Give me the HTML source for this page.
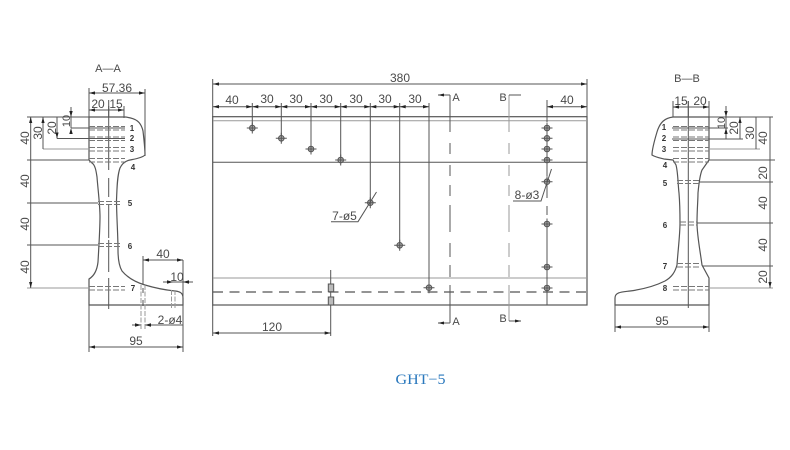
<!DOCTYPE html>
<html><head><meta charset="utf-8"><style>
html,body{margin:0;padding:0;background:#fff;width:790px;height:450px;overflow:hidden}
svg{display:block}
text{font-family:"Liberation Sans",sans-serif;font-size:12px;fill:#4a4a4a;text-anchor:middle}
.n{font-size:8px;fill:#333;font-weight:bold}
.h{stroke:#777;stroke-width:1;fill:none;stroke-dasharray:6 2}
.l{stroke:#555;stroke-width:1;fill:none}
.d{stroke:#555;stroke-width:1;fill:none;marker-start:url(#a);marker-end:url(#a)}
.g{stroke:#999;stroke-width:1;fill:none}
.p{stroke:#555;stroke-width:1.2;fill:none}
</style></head><body>
<svg width="790" height="450" viewBox="0 0 790 450" xmlns="http://www.w3.org/2000/svg">
<defs>
<marker id="a" markerWidth="7" markerHeight="5" refX="6" refY="2.5" orient="auto-start-reverse" markerUnits="userSpaceOnUse"><path d="M6 2.5L0 .9V4.1Z" fill="#222"/></marker>
<g id="o"><circle r="2.800" fill="#aaa" stroke="#555" stroke-width="1"/><path d="M-5.500 0H5.500M0-5.500V5.500" stroke="#555" stroke-width="1"/></g>
</defs>

<!-- LEFT SECTION A-A -->
<text x="108" y="72" style="font-size:11px">A—A</text>
<path class="p" d="M89 117H125C136 118 141 122 143 131C144 140 145 148 145 155C142 158 135 159 130 160C125 161 122 164 120 168C117 176 117 190 116.500 200C116.500 215 118 235 118 250C118 260 119 266 122 271C127 277 135 282 145 285C155 288 165 290 175 291C180 291.500 183 293 183 298V305H89V279C94 276 97 271 98 262C99 245 100 225 100 217C100 205 98 190 97 177C96 170 95 165 92 163L89 160Z"/>
<path class="l" d="M108.700 100V170M108.700 178V197M108.700 205V238M108.700 240V272M108.700 278V309"/>
<path class="h" d="M89 126.500H125M89 130H125M89 137H125M89 140.500H125M89 147.500H125M89 151H125M89 158.500H125M89 162H125"/>
<path class="h" d="M98 201.500H120M98 204.500H120M98 243.500H120M98 246.500H120M89 286.500H125M89 290H125" stroke-dasharray="4 2"/>
<path class="l" d="M89 88V117M145 89V156M108.700 106V117M124 106V118"/>
<path class="d" d="M89 93H145"/>
<path class="d" d="M89 110H108.700M108.700 110H124"/>
<path class="l" d="M27 117H89M71 128H125M57 138.500H125M27 160H89M27 203H98M27 245H98"/>
<path class="g" d="M43 149H89M27 288H89"/>
<path class="d" d="M30.700 117V160M30.700 160V203M30.700 203V245M30.700 245V288"/>
<path class="d" d="M43 117V149M57 117V138.500"/>
<path class="l" d="M71 107V128"/>
<path d="M71 117l-1.700-6h3.400ZM71 128l-1.700 6h3.400Z" fill="#222"/>
<path class="l" d="M143 256V285M183 260V352M89 305V352M132 325H141M145 325H183M163 282H193"/>
<path class="d" d="M143 260H183"/>
<path class="d" d="M89 347H183"/>
<path d="M173 282l-6-1.700v3.400ZM183 282l6-1.700v3.400ZM141 325l-6-1.700v3.400ZM145 325l6-1.700v3.400Z" fill="#222"/>
<path class="g" d="M141 285V330M145 285V330M171.500 290V309M175 290V309" stroke-dasharray="5 1.500"/>
<path class="l" d="M143 288V293M143 300V306"/>
<text x="117" y="92">57.36</text>
<text x="98" y="108">20</text><text x="116" y="108">15</text>
<text transform="translate(29 138) rotate(-90)">40</text>
<text transform="translate(29 181) rotate(-90)">40</text>
<text transform="translate(29 224) rotate(-90)">40</text>
<text transform="translate(29 267) rotate(-90)">40</text>
<text transform="translate(42 133) rotate(-90)">30</text>
<text transform="translate(56 128) rotate(-90)">20</text>
<text transform="translate(70 121) rotate(-90)" style="font-size:11px">10</text>
<text x="163" y="258">40</text><text x="177" y="281">10</text>
<text x="170" y="324">2-ø4</text><text x="136" y="345">95</text>
<text class="n" x="132" y="131">1</text><text class="n" x="132" y="141">2</text><text class="n" x="132" y="152">3</text><text class="n" x="133" y="170">4</text><text class="n" x="130" y="206">5</text><text class="n" x="130" y="249">6</text><text class="n" x="133" y="291">7</text>

<!-- MAIN VIEW -->
<rect class="p" x="212.700" y="116.700" width="374.300" height="188.300"/>
<path class="g" d="M213 120.700H587M213 278H587"/>
<path class="l" d="M213 162.300H587"/>
<path d="M213 292H587" stroke="#555" stroke-width="1.200" stroke-dasharray="10 6.500" fill="none"/>
<path class="l" d="M212.700 79V117M212.700 305V336M587 79V117"/>
<path class="d" d="M213 84H587"/>
<text x="400" y="82">380</text>
<path class="l" d="M252.300 103V128M281.300 103V138M311 103V149M340.700 103V160M370.300 103V203M399.700 103V245M429 103V288"/>
<path class="l" d="M213 106.700H429M547 106.700H587"/>
<text x="232" y="104">40</text><text x="267" y="103">30</text><text x="296" y="103">30</text><text x="326" y="103">30</text><text x="356" y="103">30</text><text x="385" y="103">30</text><text x="415" y="103">30</text><text x="567" y="104">40</text>
<path d="M213 106.700l6-1.700v3.400ZM252.300 106.700l-6-1.700v3.400ZM252.300 106.700l6-1.700v3.400ZM281.300 106.700l-6-1.700v3.400ZM281.300 106.700l6-1.700v3.400ZM311 106.700l-6-1.700v3.400ZM311 106.700l6-1.700v3.400ZM340.700 106.700l-6-1.700v3.400ZM340.700 106.700l6-1.700v3.400ZM370.300 106.700l-6-1.700v3.400ZM370.300 106.700l6-1.700v3.400ZM399.700 106.700l-6-1.700v3.400ZM399.700 106.700l6-1.700v3.400ZM429 106.700l-6-1.700v3.400ZM547 106.700l6-1.700v3.400ZM587 106.700l-6-1.700v3.400Z" fill="#222"/>
<use href="#o" x="252.300" y="128"/><use href="#o" x="281.300" y="138.300"/><use href="#o" x="311" y="149"/><use href="#o" x="340.700" y="160"/><use href="#o" x="370.300" y="202.700"/><use href="#o" x="399.700" y="245.300"/><use href="#o" x="429" y="287.700"/>
<use href="#o" x="547" y="128"/><use href="#o" x="547" y="138.300"/><use href="#o" x="547" y="149"/><use href="#o" x="547" y="160"/><use href="#o" x="547" y="181.700"/><use href="#o" x="547" y="224"/><use href="#o" x="547" y="267"/><use href="#o" x="547" y="288"/>
<path class="l" d="M547 100V122M547 165V176M547 187V198M547 206V215M547 229V262M547 272V305"/>
<text x="344.500" y="220">7-ø5</text>
<path class="l" d="M331 221.700H358L376.500 192"/>
<text x="527" y="199">8-ø3</text>
<path class="l" d="M513 201H541L551.500 169"/>
<path class="l" d="M330.700 270V336"/>
<rect x="328.300" y="284" width="5.400" height="7.700" fill="#bbb" stroke="#555"/>
<rect x="328.300" y="297" width="5.400" height="8" fill="#bbb" stroke="#555"/>
<path class="d" d="M213 333H330.700"/>
<text x="272" y="331">120</text>
<path class="l" d="M450 95V132M450 143V154M450 165V176M450 185V196M450 205V232M450 243V257M450 265V277M450 285V323"/>
<path class="g" d="M509 95V132M509 143V154M509 165V176M509 185V196M509 205V232M509 243V257M509 265V277M509 285V321"/>
<path class="l" d="M438 95H450M438 323H450M509 95H521M509 321H521"/>
<path d="M438 95l6-1.500v3ZM438 323l6-1.500v3ZM521 321l-6-1.500v3Z" fill="#222"/>
<text x="456" y="101" style="font-size:11px">A</text><text x="456" y="325" style="font-size:11px">A</text>
<text x="503" y="101" style="font-size:11px">B</text><text x="503" y="322" style="font-size:11px">B</text>

<!-- RIGHT SECTION B-B -->
<text x="687" y="82" style="font-size:11px">B—B</text>
<path class="p" d="M709 117H673C665 118 660 122 657 132C654 142 652 150 652 155C655 157 660 158 664 159L673 160L676 165C678 172 678 185 679 193C680 205 680 215 680 223C680 235 678 250 677 265C675 272 672 277 665 281C655 286 645 289 630 291C622 292 615 292 615 298V305H709V278L702 265C700 250 697 235 697 223C697 210 698 200 698 193C699 182 700 175 702 170L709 160Z"/>
<path class="l" d="M688.300 101V308"/>
<path class="h" d="M673 126.500H709M673 130H709M673 137H709M673 140.500H709M673 147.500H709M673 151H709M673 158.500H709M673 162H709"/>
<path class="h" d="M677 180.500H699M677 183.500H699M680 222H697M680 225H697M677 263.500H701M677 267H701M673 286.500H709M673 290H709" stroke-dasharray="4 2"/>
<path class="l" d="M673 101V117M688.300 101V117M709 101V117"/>
<path class="d" d="M673 107H688.300M688.300 107H709"/>
<path class="l" d="M709 117H773M672 128H728M672 139H743M709 160H775M699 182H773M697 223H773M702 266H773"/>
<path class="g" d="M709 149H760M709 288H773"/>
<path class="l" d="M726 106V139"/>
<path d="M726 117l-1.700-6h3.400ZM726 128l-1.700 6h3.400Z" fill="#222"/>
<path class="d" d="M740 117V139M756 117V149M770 117V160M770 160V182M770 182V223M770 223V266M770 266V288"/>
<text x="681" y="105">15</text><text x="700" y="105">20</text>
<text transform="translate(725 123) rotate(-90)" style="font-size:11px">10</text>
<text transform="translate(738 128) rotate(-90)">20</text>
<text transform="translate(754 133) rotate(-90)">30</text>
<text transform="translate(767 138) rotate(-90)">40</text>
<text transform="translate(767 173) rotate(-90)">20</text>
<text transform="translate(767 203) rotate(-90)">40</text>
<text transform="translate(767 245) rotate(-90)">40</text>
<text transform="translate(767 277) rotate(-90)">20</text>
<text class="n" x="664" y="130">1</text><text class="n" x="664" y="141">2</text><text class="n" x="664" y="152">3</text><text class="n" x="665" y="168">4</text><text class="n" x="665" y="186">5</text><text class="n" x="665" y="228">6</text><text class="n" x="665" y="269">7</text><text class="n" x="665" y="291">8</text>
<path class="l" d="M615 305V332M709 305V332"/>
<path class="d" d="M615 327H709"/>
<text x="662" y="325">95</text>

<text x="420.500" y="384" textLength="50" lengthAdjust="spacingAndGlyphs" style="font-family:'Liberation Serif',serif;font-size:15px;fill:#2a78bd">GHT−5</text>
</svg>
</body></html>
